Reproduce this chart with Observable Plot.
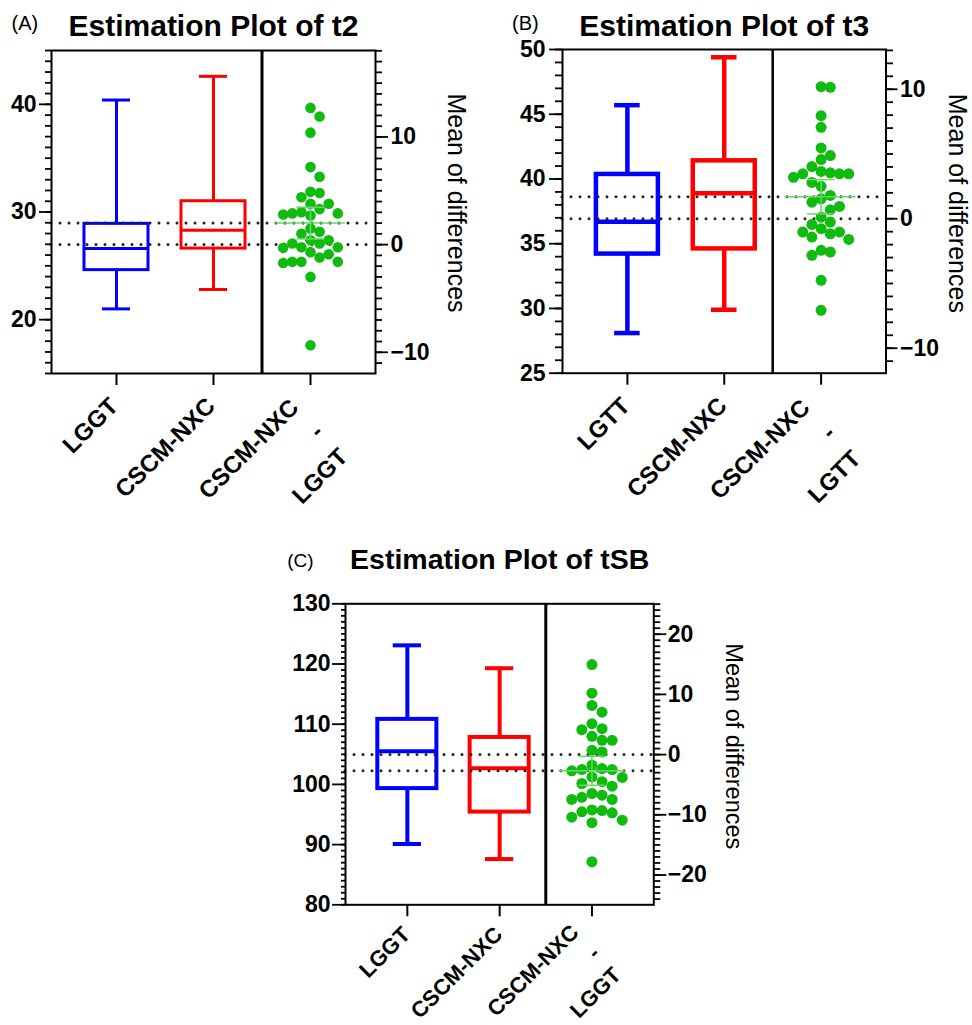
<!DOCTYPE html>
<html>
<head>
<meta charset="utf-8">
<script src="https://cdn.jsdelivr.net/npm/d3@7"></script>
<script src="https://cdn.jsdelivr.net/npm/@observablehq/plot@0.6"></script>
<style>
  body { margin: 0; background: #fff; }
  #root { position: relative; width: 972px; height: 1025px; overflow: hidden; background: #fff; }
  .panel { position: absolute; }
  .panel svg { overflow: visible; }
</style>
</head>
<body>
<div id="root"></div>
<script>
// ---------------- DATA ----------------
// Panel A: Estimation Plot of t2
const titleA = "Estimation Plot of t2";
const catsA = ["LGGT", "CSCM-NXC", "CSCM-NXC\n-\nLGGT"];
const minA = [21.0, 22.8];
const q1A = [24.6, 26.6];
const medA = [26.6, 28.3];
const q3A = [28.9, 31.0];
const maxA = [40.4, 42.6];
const refMeanA = 26.97;            // mean of LGGT = zero of "Mean of differences"
const diffA = [12.7, 11.9, 10.4, 7.2, 6.3, 4.9, 4.8, 3.8, 4.4, 3.8, 3.0, 2.9, 2.9, 2.7, 2.8, 3.3,
  1.2, 1.5, 1.0, 0.4, 0.1, 0.4, -0.25, 0.1, -0.25, -0.3, -1.2, -0.7, -0.9, -1.6, -1.6, -1.6, -1.7,
  -3.0, -9.35];
const yDomainA = [15, 45];
const leftTicksA = [20, 30, 40];
const rightTicksA = [-10, 0, 10];

// Panel B: Estimation Plot of t3
const titleB = "Estimation Plot of t3";
const catsB = ["LGTT", "CSCM-NXC", "CSCM-NXC\n-\nLGTT"];
const minB = [28.1, 29.9];
const q1B = [34.2, 34.6];
const medB = [36.7, 38.9];
const q3B = [40.35, 41.4];
const maxB = [45.7, 49.4];
const refMeanB = 36.93;
const diffB = [10.15, 10.2, 7.96, 7.06, 5.47, 4.88, 4.57, 3.55, 3.47, 3.2, 3.47, 4.03, 3.47, 3.65,
  2.5, 2.8, 1.8, 1.54, 1.28, 0.95, 0.69, 0.12, -0.26, -0.77, -0.44, -1.42, -1.16, -1.6, -1.03,
  -1.03, -2.44, -2.83, -2.57, -4.76, -7.07];
const yDomainB = [25, 50];
const leftTicksB = [25, 30, 35, 40, 45, 50];
const rightTicksB = [-10, 0, 10];

// Panel C: Estimation Plot of tSB
const titleC = "Estimation Plot of tSB";
const catsC = ["LGGT", "CSCM-NXC", "CSCM-NXC\n-\nLGGT"];
const minC = [90.1, 87.6];
const q1C = [99.3, 95.4];
const medC = [105.5, 102.7];
const q3C = [110.8, 107.8];
const maxC = [123.1, 119.3];
const refMeanC = 104.95;
const diffC = [14.95, 10.2, 8.16, 7.05, 5.13, 4.14, 4.3, 3.03, 2.37, 2.37, 0.43, 0.71, -2.48, -2.32,
  -1.77, -2.48, -2.7, -4.8, -3.8, -4.5, -3.7, -5.25, -7.1, -6.74, -7.45, -7.45, -6.46, -9.2, -10.4,
  -10.9, -11.3, -9.5, -9.3, -9.67, -17.8];
const yDomainC = [80, 130];
const leftTicksC = [80, 90, 100, 110, 120, 130];
const rightTicksC = [-20, -10, 0, 10, 20];

const boxColors = ["#0000ff", "#ff0000"];
const dotColor = "#10bb10";
const FONT = "'Liberation Sans', Arial, Helvetica, sans-serif";

// ---------------- HELPERS ----------------
const fmt = (k) => (k < 0 ? "\u2212" + Math.abs(k) : String(k));

// Discrete-column beeswarm: returns a column index for each value
function swarmColumns(values, pxPerUnit, minDy) {
  const order = d3.range(values.length).sort((a, b) => values[b] - values[a]);
  const cols = new Map();
  const out = new Array(values.length);
  for (const i of order) {
    const y = values[i] * pxPerUnit;
    for (let k = 0; ; k++) {
      const c = k === 0 ? 0 : (k % 2 ? (k + 1) / 2 : -k / 2);
      const arr = cols.get(c) || [];
      if (arr.every((v) => Math.abs(v - y) >= minDy)) {
        arr.push(y); cols.set(c, arr); out[i] = c; break;
      }
    }
  }
  return out;
}

function makePanel(cfg) {
  const xDomain = [-0.67, 2.67];
  const fw = cfg.width - cfg.ml - cfg.mr;
  const fh = cfg.height - cfg.mt - cfg.mb;
  const pxX = fw / (xDomain[1] - xDomain[0]);
  const pxY = fh / (cfg.yDomain[1] - cfg.yDomain[0]);
  const ref = cfg.ref;

  const boxes = cfg.min.map((_, i) => ({
    i, min: cfg.min[i], q1: cfg.q1[i], med: cfg.med[i], q3: cfg.q3[i], max: cfg.max[i], color: boxColors[i]
  }));
  const meanDiff = d3.mean(cfg.diff);
  const ci = 2.03 * d3.deviation(cfg.diff) / Math.sqrt(cfg.diff.length);
  const cols = swarmColumns(cfg.diff, pxY, cfg.r * 2 * 1.02);
  const pts = cfg.diff.map((d, j) => ({ x: 2 + cols[j] * cfg.colW / pxX, y: ref + d }));

  const minorLeft = d3.range(cfg.yDomain[0], cfg.yDomain[1] + 0.001, 1);
  const minorRight = d3.range(Math.ceil(cfg.yDomain[0] - ref), Math.floor(cfg.yDomain[1] - ref) + 1).map((k) => k + ref);
  const majorRight = cfg.rightTicks.map((k) => k + ref);

  const bw = cfg.bw, cw = cfg.cw, sw = cfg.boxSW;
  const labels = cfg.cats.map((c, i) => ({ i, c }));

  return Plot.plot({
    width: cfg.width, height: cfg.height,
    marginTop: cfg.mt, marginRight: cfg.mr, marginBottom: cfg.mb, marginLeft: cfg.ml,
    x: { domain: xDomain, axis: null, label: null },
    y: { domain: cfg.yDomain, axis: null, label: null },
    color: { type: "identity" },
    style: { fontFamily: FONT, background: "white", color: "black", overflow: "visible" },
    marks: [
      // boxes
      Plot.rect(boxes, { x1: (d) => d.i - bw, x2: (d) => d.i + bw, y1: "q1", y2: "q3", stroke: "color", fill: "white", strokeWidth: sw }),
      Plot.ruleX(boxes, { x: "i", y1: "min", y2: "q1", stroke: "color", strokeWidth: sw }),
      Plot.ruleX(boxes, { x: "i", y1: "q3", y2: "max", stroke: "color", strokeWidth: sw }),
      Plot.ruleY(boxes, { y: "min", x1: (d) => d.i - cw, x2: (d) => d.i + cw, stroke: "color", strokeWidth: sw }),
      Plot.ruleY(boxes, { y: "max", x1: (d) => d.i - cw, x2: (d) => d.i + cw, stroke: "color", strokeWidth: sw }),
      Plot.ruleY(boxes, { y: "med", x1: (d) => d.i - bw, x2: (d) => d.i + bw, stroke: "color", strokeWidth: sw }),
      // dotted reference lines (group-1 mean and group-1 mean + mean difference)
      Plot.ruleY([ref, ref + meanDiff], { stroke: "#222", strokeWidth: 3, strokeDasharray: "0 9", strokeLinecap: "round" }),
      // separator
      Plot.ruleX([1.5], { stroke: "black", strokeWidth: cfg.sepSW }),
      // differences
      Plot.dot(pts, { x: "x", y: "y", r: cfg.r, fill: dotColor, stroke: "none" }),
      // mean & CI
      Plot.ruleY([ref + meanDiff], { x1: 2 - 0.36, x2: 2 + 0.36, stroke: "#66d866", strokeWidth: 1.5 }),
      Plot.ruleX([2], { y1: ref + meanDiff - ci, y2: ref + meanDiff + ci, stroke: "#66d866", strokeWidth: 1.5 }),
      Plot.ruleY([ref + meanDiff - ci, ref + meanDiff + ci], { x1: 2 - 0.14, x2: 2 + 0.14, stroke: "#66d866", strokeWidth: 1.5 }),
      // frame
      Plot.frame({ stroke: "black", strokeWidth: 2 }),
      // left axis
      Plot.axisY(minorLeft, { anchor: "left", tickSize: cfg.minorL, tickFormat: () => "", strokeWidth: 1.8, label: null }),
      Plot.axisY(cfg.leftTicks, { anchor: "left", tickSize: cfg.majorL, tickPadding: cfg.padL, tickFormat: (d) => String(d),
        fontSize: 23, fontWeight: "bold", strokeWidth: 1.8, label: null }),
      // right axis (mean of differences)
      Plot.axisY(minorRight, { anchor: "right", tickSize: cfg.minorR, tickFormat: () => "", strokeWidth: 1.8, label: null }),
      Plot.axisY(majorRight, { anchor: "right", tickSize: cfg.majorR, tickPadding: cfg.padR,
        tickFormat: (d) => fmt(Math.round(d - ref)), fontSize: 23, fontWeight: "bold", strokeWidth: 1.8, label: null }),
      // bottom ticks
      Plot.axisX([0, 1, 2], { anchor: "bottom", tickSize: 12, tickFormat: () => "", strokeWidth: 2, label: null }),
      // category labels
      Plot.text(labels.slice(0, 2), { x: "i", text: "c", frameAnchor: "bottom", rotate: -45, textAnchor: "end", lineAnchor: "top",
        dx: cfg.lblDx, dy: cfg.lblDy, fontSize: cfg.xFont, fontWeight: "bold" }),
      Plot.text(labels.slice(2), { x: "i", text: "c", frameAnchor: "bottom", rotate: -45, textAnchor: "end", lineAnchor: "top",
        dx: cfg.lblDx2, dy: cfg.lblDy2, fontSize: cfg.xFont, fontWeight: "bold", lineHeight: cfg.lh }),
      // right axis title
      Plot.text(["Mean of differences"], { frameAnchor: "right", rotate: 90, textAnchor: "middle", lineAnchor: "bottom",
        dx: cfg.y2dx, dy: cfg.y2dy, fontSize: cfg.y2Font }),
      // title and panel letter
      Plot.text([cfg.title], { frameAnchor: "top", lineAnchor: "bottom", dy: cfg.titleDy, fontSize: cfg.titleFont, fontWeight: "bold" }),
      Plot.text([cfg.letter], { frameAnchor: "top-left", textAnchor: "start", lineAnchor: "bottom", dx: cfg.letterDx, dy: cfg.letterDy, fontSize: cfg.letterFont })
    ]
  });
}

const panels = [
  { left: 0, top: 0, width: 485, height: 510, mt: 50, mr: 110, mb: 137, ml: 51,
    title: titleA, letter: "(A)", cats: catsA, min: minA, q1: q1A, med: medA, q3: q3A, max: maxA,
    ref: refMeanA, diff: diffA, yDomain: yDomainA, leftTicks: leftTicksA, rightTicks: rightTicksA,
    bw: 0.33, cw: 0.145, boxSW: 3, sepSW: 3, r: 5.3, colW: 9.1,
    minorL: 6, majorL: 12, padL: 3, minorR: 6, majorR: 12, padR: 3,
    lblDx: -9, lblDx2: -28, lblDy: 22, lblDy2: 18, xFont: 24, lh: 1.45,
    y2dx: 72, y2dy: -9, y2Font: 25, titleDy: -15, titleFont: 30, letterDx: -40, letterDy: -21, letterFont: 20 },
  { left: 490, top: 0, width: 482, height: 510, mt: 49, mr: 86.5, mb: 137.3, ml: 72,
    title: titleB, letter: "(B)", cats: catsB, min: minB, q1: q1B, med: medB, q3: q3B, max: maxB,
    ref: refMeanB, diff: diffB, yDomain: yDomainB, leftTicks: leftTicksB, rightTicks: rightTicksB,
    bw: 0.32, cw: 0.132, boxSW: 4.5, sepSW: 2.5, r: 5.5, colW: 9.2,
    minorL: 7, majorL: 13, padL: 4, minorR: 6.5, majorR: 11, padR: 3,
    lblDx: -8, lblDx2: -28, lblDy: 22, lblDy2: 18, xFont: 24, lh: 1.5,
    y2dx: 63, y2dy: -8, y2Font: 25, titleDy: -14, titleFont: 30, letterDx: -50.5, letterDy: -20, letterFont: 20 },
  { left: 270, top: 540, width: 480, height: 485, mt: 63.3, mr: 96.7, mb: 120.7, ml: 75,
    title: titleC, letter: "(C)", cats: catsC, min: minC, q1: q1C, med: medC, q3: q3C, max: maxC,
    ref: refMeanC, diff: diffC, yDomain: yDomainC, leftTicks: leftTicksC, rightTicks: rightTicksC,
    bw: 0.32, cw: 0.153, boxSW: 4, sepSW: 3, r: 5.5, colW: 10.1,
    minorL: 4, majorL: 13, padL: 2, minorR: 6, majorR: 12, padR: 2,
    lblDx: -7, lblDx2: -27, lblDy: 20, lblDy2: 14, xFont: 22, lh: 1.36,
    y2dx: 72, y2dy: -8, y2Font: 23.5, titleDy: -35, titleFont: 28.5, letterDx: -58.3, letterDy: -37, letterFont: 19 }
];

const root = document.getElementById("root");
for (const p of panels) {
  const div = document.createElement("div");
  div.className = "panel";
  div.style.left = p.left + "px";
  div.style.top = p.top + "px";
  div.appendChild(makePanel(p));
  root.appendChild(div);
}
</script>
</body>
</html>
